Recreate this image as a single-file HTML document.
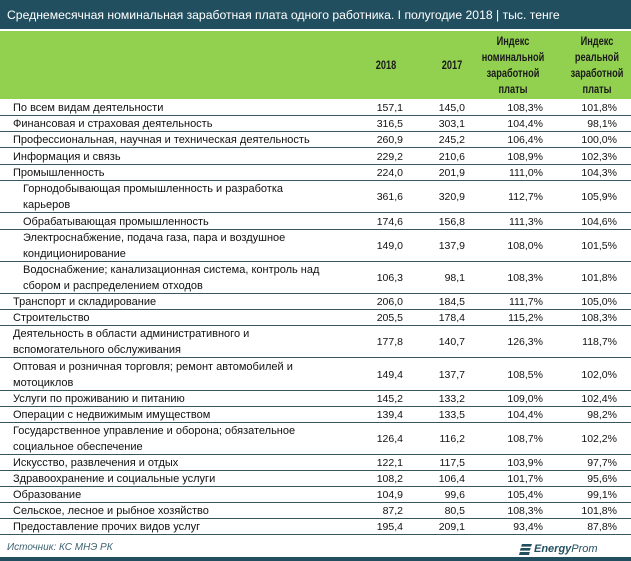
<!DOCTYPE html>
<html><head><meta charset="utf-8">
<style>
*{margin:0;padding:0;box-sizing:border-box}
html,body{width:631px;height:561px;background:#fff;overflow:hidden}
body{position:relative;font-family:"Liberation Sans","DejaVu Sans",sans-serif;color:#111}
#title{position:absolute;left:0;top:0;width:631px;height:29px;background:#224f60;color:#fff;font-size:12.2px;line-height:30px;padding-left:7px;white-space:nowrap}
#hdr{position:absolute;left:0;top:31px;width:631px;height:68px;background:#92d050}
.h{position:absolute;font-weight:bold;font-size:11.5px;line-height:16px;text-align:center;color:#1a1a1a;transform:scaleX(0.8);transform-origin:center}
.row{position:absolute;left:0;width:631px;display:flex;align-items:center;border-bottom:1px solid #3a5663;font-size:11px;line-height:16px;padding-top:1px}
.lab{width:350px;padding-left:13px;white-space:nowrap}
.lab.in{padding-left:23px}
.n{text-align:right;font-size:10.5px;white-space:nowrap}
.c1{width:53px}.c2{width:62px}.c3{width:78px}.c4{width:74px}
#src{position:absolute;left:7px;top:541px;font-size:10px;font-style:italic;color:#3e6473;line-height:14px}
#logo{position:absolute;left:519px;top:542px;height:14px;display:flex;align-items:center;color:#23505f;font-size:11px;font-style:italic;line-height:14px}
#bar{position:absolute;left:0;top:557px;width:631px;height:4px;background:#224f60}
</style></head><body>
<div id="title">Среднемесячная номинальная заработная плата одного работника. I полугодие 2018 | тыс. тенге</div>
<div id="hdr">
<div class="h" style="left:356px;width:60px;top:27px">2018</div>
<div class="h" style="left:422px;width:60px;top:27px">2017</div>
<div class="h" style="left:463px;width:100px;top:3px">Индекс<br>номинальной<br>заработной<br>платы</div>
<div class="h" style="left:547px;width:100px;top:3px">Индекс<br>реальной<br>заработной<br>платы</div>
</div>

<div class="row" style="top:99px;height:17px"><div class="lab">По всем видам деятельности</div><div class="n c1">157,1</div><div class="n c2">145,0</div><div class="n c3">108,3%</div><div class="n c4">101,8%</div></div>
<div class="row" style="top:116px;height:16px"><div class="lab">Финансовая и страховая деятельность</div><div class="n c1">316,5</div><div class="n c2">303,1</div><div class="n c3">104,4%</div><div class="n c4">98,1%</div></div>
<div class="row" style="top:132px;height:16px"><div class="lab">Профессиональная, научная и техническая деятельность</div><div class="n c1">260,9</div><div class="n c2">245,2</div><div class="n c3">106,4%</div><div class="n c4">100,0%</div></div>
<div class="row" style="top:148px;height:17px"><div class="lab">Информация и связь</div><div class="n c1">229,2</div><div class="n c2">210,6</div><div class="n c3">108,9%</div><div class="n c4">102,3%</div></div>
<div class="row" style="top:165px;height:16px"><div class="lab">Промышленность</div><div class="n c1">224,0</div><div class="n c2">201,9</div><div class="n c3">111,0%</div><div class="n c4">104,3%</div></div>
<div class="row" style="top:181px;height:32px"><div class="lab in">Горнодобывающая промышленность и разработка<br>карьеров</div><div class="n c1">361,6</div><div class="n c2">320,9</div><div class="n c3">112,7%</div><div class="n c4">105,9%</div></div>
<div class="row" style="top:213px;height:17px"><div class="lab in">Обрабатывающая промышленность</div><div class="n c1">174,6</div><div class="n c2">156,8</div><div class="n c3">111,3%</div><div class="n c4">104,6%</div></div>
<div class="row" style="top:230px;height:32px"><div class="lab in">Электроснабжение, подача газа, пара и воздушное<br>кондиционирование</div><div class="n c1">149,0</div><div class="n c2">137,9</div><div class="n c3">108,0%</div><div class="n c4">101,5%</div></div>
<div class="row" style="top:262px;height:32px"><div class="lab in">Водоснабжение; канализационная система, контроль над<br>сбором и распределением отходов</div><div class="n c1">106,3</div><div class="n c2">98,1</div><div class="n c3">108,3%</div><div class="n c4">101,8%</div></div>
<div class="row" style="top:294px;height:16px"><div class="lab">Транспорт и складирование</div><div class="n c1">206,0</div><div class="n c2">184,5</div><div class="n c3">111,7%</div><div class="n c4">105,0%</div></div>
<div class="row" style="top:310px;height:16px"><div class="lab">Строительство</div><div class="n c1">205,5</div><div class="n c2">178,4</div><div class="n c3">115,2%</div><div class="n c4">108,3%</div></div>
<div class="row" style="top:326px;height:32px"><div class="lab">Деятельность в области административного и<br>вспомогательного обслуживания</div><div class="n c1">177,8</div><div class="n c2">140,7</div><div class="n c3">126,3%</div><div class="n c4">118,7%</div></div>
<div class="row" style="top:358px;height:33px"><div class="lab">Оптовая и розничная торговля; ремонт автомобилей и<br>мотоциклов</div><div class="n c1">149,4</div><div class="n c2">137,7</div><div class="n c3">108,5%</div><div class="n c4">102,0%</div></div>
<div class="row" style="top:391px;height:16px"><div class="lab">Услуги по проживанию и питанию</div><div class="n c1">145,2</div><div class="n c2">133,2</div><div class="n c3">109,0%</div><div class="n c4">102,4%</div></div>
<div class="row" style="top:407px;height:16px"><div class="lab">Операции с недвижимым имуществом</div><div class="n c1">139,4</div><div class="n c2">133,5</div><div class="n c3">104,4%</div><div class="n c4">98,2%</div></div>
<div class="row" style="top:423px;height:32px"><div class="lab">Государственное управление и оборона; обязательное<br>социальное обеспечение</div><div class="n c1">126,4</div><div class="n c2">116,2</div><div class="n c3">108,7%</div><div class="n c4">102,2%</div></div>
<div class="row" style="top:455px;height:16px"><div class="lab">Искусство, развлечения и отдых</div><div class="n c1">122,1</div><div class="n c2">117,5</div><div class="n c3">103,9%</div><div class="n c4">97,7%</div></div>
<div class="row" style="top:471px;height:16px"><div class="lab">Здравоохранение и социальные услуги</div><div class="n c1">108,2</div><div class="n c2">106,4</div><div class="n c3">101,7%</div><div class="n c4">95,6%</div></div>
<div class="row" style="top:487px;height:16px"><div class="lab">Образование</div><div class="n c1">104,9</div><div class="n c2">99,6</div><div class="n c3">105,4%</div><div class="n c4">99,1%</div></div>
<div class="row" style="top:503px;height:16px"><div class="lab">Сельское, лесное и рыбное хозяйство</div><div class="n c1">87,2</div><div class="n c2">80,5</div><div class="n c3">108,3%</div><div class="n c4">101,8%</div></div>
<div class="row" style="top:519px;height:16px"><div class="lab">Предоставление прочих видов услуг</div><div class="n c1">195,4</div><div class="n c2">209,1</div><div class="n c3">93,4%</div><div class="n c4">87,8%</div></div>

<div id="src">Источник: КС МНЭ РК</div>
<div id="logo">
<svg width="13" height="11" viewBox="0 0 13 11" style="margin-right:2px"><polygon points="3,0 13,0 12,2.6 2,2.6" fill="#23505f"/><polygon points="1.8,4 11.8,4 10.8,6.6 0.8,6.6" fill="#23505f"/><polygon points="0.8,8 10.8,8 10,11 0,11" fill="#23505f"/></svg>
<span style="font-weight:bold">Energy</span><span>Prom</span>
</div>
<div id="bar"></div>
</body></html>
